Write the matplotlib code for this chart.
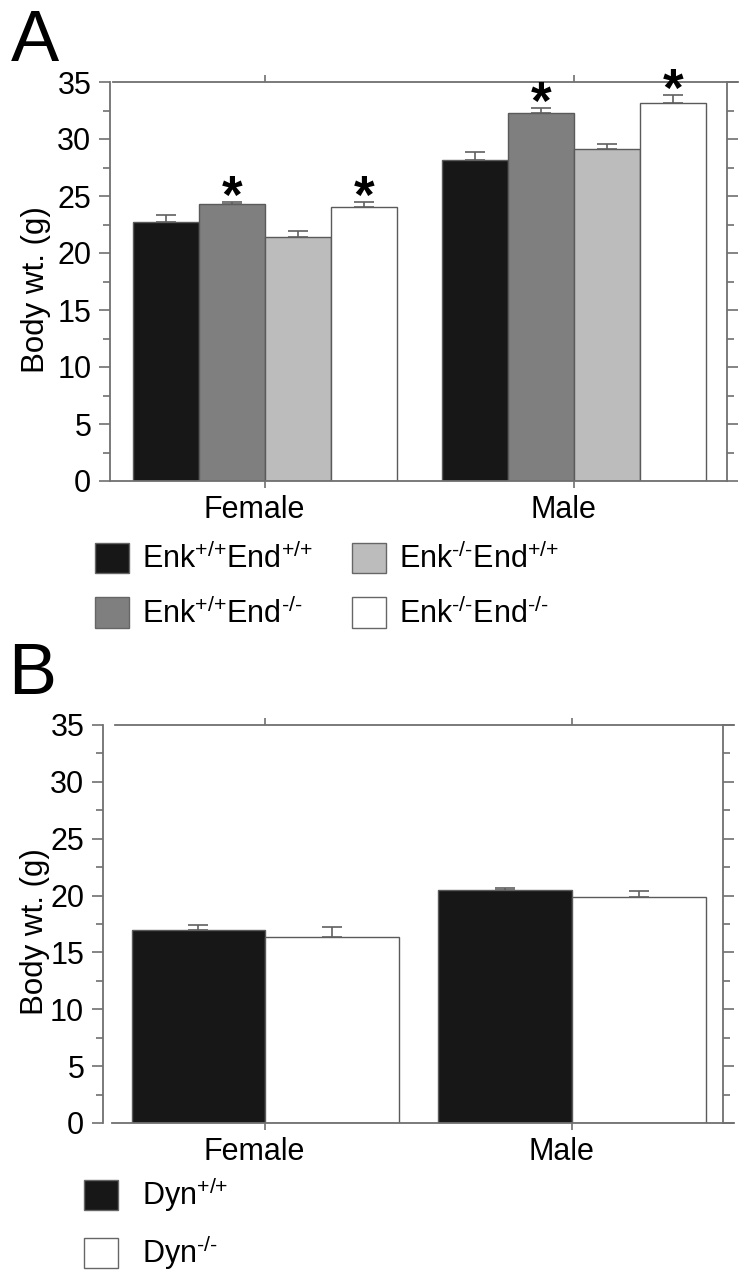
import numpy as np
import matplotlib
matplotlib.use('Agg')
import matplotlib.pyplot as plt
from matplotlib.patches import Patch
from matplotlib.ticker import MultipleLocator
import matplotlib.transforms as mtrans

plt.rcParams['font.family'] = ['Liberation Sans', 'DejaVu Sans']
plt.rcParams['mathtext.fontset'] = 'custom'
plt.rcParams['mathtext.rm'] = 'Liberation Sans'
plt.rcParams['mathtext.it'] = 'Liberation Sans:italic'
plt.rcParams['mathtext.bf'] = 'Liberation Sans:bold'

# ---------------- data ----------------
groups = ['Female', 'Male']

a_genotypes = [r'Enk$^{\text{+/+}}$End$^{\text{+/+}}$',
               r'Enk$^{\text{+/+}}$End$^{\text{-/-}}$',
               r'Enk$^{\text{-/-}}$End$^{\text{+/+}}$',
               r'Enk$^{\text{-/-}}$End$^{\text{-/-}}$']
a_female = [22.7, 24.3, 21.4, 24.0]
a_male = [28.2, 32.3, 29.1, 33.2]
a_female_err = [0.6, 0.2, 0.5, 0.5]
a_male_err = [0.7, 0.45, 0.45, 0.7]
a_sig_female = [False, True, False, True]
a_sig_male = [False, True, False, True]
a_colors = ['#171717', '#7f7f7f', '#bcbcbc', '#ffffff']

b_genotypes = [r'Dyn$^{\text{+/+}}$', r'Dyn$^{\text{-/-}}$']
b_female = [17.0, 16.4]
b_male = [20.5, 19.9]
b_female_err = [0.4, 0.8]
b_male_err = [0.15, 0.5]
b_colors = ['#171717', '#ffffff']

yticks = [0, 5, 10, 15, 20, 25, 30, 35]

# ---------------- figure ----------------
W, H = 750, 1279
fig = plt.figure(figsize=(W / 100, H / 100), dpi=100)

def frac_box(left, right, top, bottom):
    return [left / W, 1 - bottom / H, (right - left) / W, (bottom - top) / H]

axA = fig.add_axes(frac_box(110, 727, 82, 481))
axB = fig.add_axes(frac_box(103, 723, 725, 1123))

SPINE_C = '#707070'
EDGE_C = '#5a5a5a'
TICK_FS = 22
XLAB_FS = 22
YLAB_FS = 22.5
LEG_FS = 22
STAR_FS = 38


def style_axes(ax, xlim, bottom_bounds, top_bounds, label_y):
    ax.set_xlim(*xlim)
    ax.set_ylim(0, 35)
    for s in ax.spines.values():
        s.set_color(SPINE_C)
        s.set_linewidth(1.3)
    ax.spines['bottom'].set_bounds(*bottom_bounds)
    ax.spines['top'].set_bounds(*top_bounds)
    ax.set_yticks(yticks)
    ax.yaxis.set_minor_locator(MultipleLocator(2.5))
    ax.tick_params(axis='y', which='both', direction='out', left=True, right=True,
                   labelleft=True, labelright=False, color=SPINE_C, width=1.2,
                   labelsize=TICK_FS, pad=5.5)
    ax.tick_params(axis='y', which='major', length=8)
    ax.tick_params(axis='y', which='minor', length=5)
    ax.set_xticks(range(len(groups)))
    ax.set_xticklabels(groups, fontsize=XLAB_FS)
    ax.tick_params(axis='x', which='both', direction='out', bottom=True, top=True,
                   length=5, color=SPINE_C, width=1.2, pad=5)
    # x tick labels slightly left of the tick positions
    offset = mtrans.ScaledTranslation(-11 / 100, 0, fig.dpi_scale_trans)
    for lab in ax.get_xticklabels():
        lab.set_transform(lab.get_transform() + offset)
    ax.set_ylabel('Body wt. (g)', fontsize=YLAB_FS)
    ax.yaxis.set_label_coords(label_y[0], label_y[1])


def draw_bars(ax, female, male, ferr, merr, colors, width):
    n = len(female)
    x = np.arange(len(groups))
    tops = []
    for i in range(n):
        pos = x + (i - (n - 1) / 2) * width
        vals = [female[i], male[i]]
        errs = [ferr[i], merr[i]]
        ax.bar(pos, vals, width=width, color=colors[i], edgecolor=EDGE_C,
               linewidth=1.0, zorder=2)
        ax.errorbar(pos, vals, yerr=[np.zeros(len(vals)), errs], fmt='none',
                    ecolor='#606060', elinewidth=1.2, capsize=7, capthick=1.2,
                    zorder=3)
        tops.append([(p, v + e) for p, v, e in zip(pos, vals, errs)])
    return tops


# ---------------- panel A ----------------
topsA = draw_bars(axA, a_female, a_male, a_female_err, a_male_err, a_colors, 0.2135)
style_axes(axA, (-0.502, 1.495), (-0.502, 1.495), (-0.492, 1.531), (-0.095, 0.48))

em_px = STAR_FS * 100 / 72
for i in range(len(a_genotypes)):
    for g, sig in enumerate([a_sig_female[i], a_sig_male[i]]):
        if sig:
            px, py = topsA[i][g]
            axA.annotate('*', xy=(px, py), xytext=(0, (4 - 0.29 * em_px) * 0.72),
                         textcoords='offset points', ha='center', va='baseline',
                         fontsize=STAR_FS, fontweight='bold', color='black',
                         annotation_clip=False, zorder=4)

# ---------------- panel B ----------------
draw_bars(axB, b_female, b_male, b_female_err, b_male_err, b_colors, 0.435)
style_axes(axB, (-0.528, 1.492), (-0.498, 1.528), (-0.489, 1.528), (-0.085, 0.48))

# ---------------- panel letters ----------------
fig.text(11 / W, 1 - 61 / H, 'A', fontsize=52, ha='left', va='baseline')
fig.text(8 / W, 1 - 694 / H, 'B', fontsize=52, ha='left', va='baseline')

# ---------------- legends ----------------
leg_kw = dict(loc='upper left', frameon=False, fontsize=LEG_FS,
              handlelength=1.11, handleheight=1.14,
              borderaxespad=0, borderpad=0)

handlesA = [Patch(facecolor=c, edgecolor='#666666', linewidth=1.0) for c in a_colors]
fig.legend(handlesA, a_genotypes, bbox_to_anchor=(95 / W, 1 - 543 / H), ncol=2,
           handletextpad=0.42, columnspacing=1.3, labelspacing=0.72, **leg_kw)

handlesB = [Patch(facecolor=c, edgecolor='#666666', linewidth=1.0) for c in b_colors]
fig.legend(handlesB, b_genotypes, bbox_to_anchor=(84 / W, 1 - 1175 / H), ncol=1,
           handletextpad=0.78, labelspacing=0.62, **leg_kw)

fig.savefig('out.png', dpi=100)
